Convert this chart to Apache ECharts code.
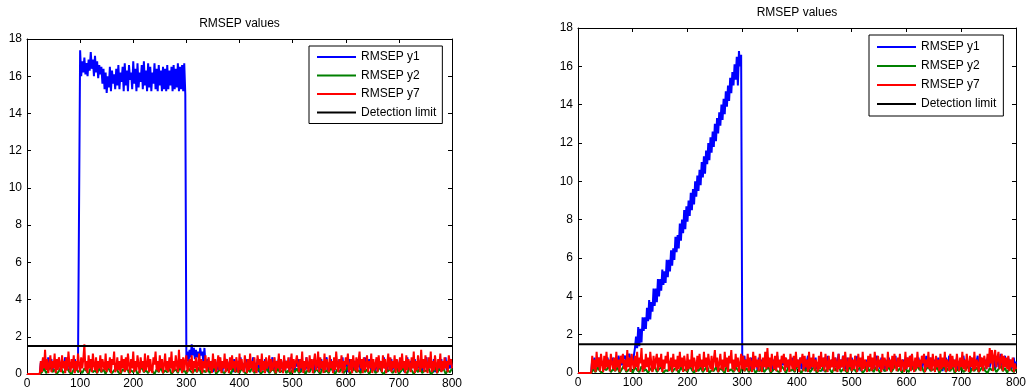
<!DOCTYPE html>
<html>
<head>
<meta charset="utf-8">
<title>RMSEP values</title>
<script src="https://cdn.jsdelivr.net/npm/echarts@6/dist/echarts.min.js"></script>
<style>
  html, body { margin: 0; padding: 0; background: #fff; }
  #chart { width: 1029px; height: 392px; }
</style>
</head>
<body>
<div id="chart"></div>
<script>
// Traces are stored as evenly spaced samples over 0..800
// (y1 and y7 every 2 samples, y2 every 4 samples).
const xTicks = [0, 100, 200, 300, 400, 500, 600, 700, 800];
const yTicks = [0, 2, 4, 6, 8, 10, 12, 14, 16, 18];
const seriesNames = ['RMSEP y1', 'RMSEP y2', 'RMSEP y7', 'Detection limit'];
const detectionLimit = 1.5;

// Left panel: step fault on y1 between samples 100 and 300
const leftY1 = [0,0,0,0,0,0,0,0,0,0,0,0,0,
  0.6,0.3,0.8,0.5,0.2,0.7,0.4,0.9,0.3,0.6,0.8,0.2,0.5,0.7,0.4,0.6,0.3,0.8,0.5,0.2,
  0.7,0.4,0.6,0.9,0.3,0.5,0.8,0.2,0.6,0.4,0.7,0.3,0.8,0.5,0.2,0.6,0.5,
  17.4,16.0,16.8,16.2,17.0,16.1,16.7,16.0,16.9,16.3,17.3,16.4,16.9,16.0,17.1,16.2,16.8,15.9,16.6,16.1,
  16.5,15.6,16.4,15.3,16.2,15.1,16.0,15.4,16.5,15.2,16.3,15.6,16.1,15.3,16.4,15.5,16.6,15.3,16.2,15.7,
  16.5,15.2,16.7,15.5,16.3,15.2,16.6,15.8,16.2,15.3,16.8,15.6,16.4,15.2,16.7,15.4,16.2,15.7,16.6,15.3,
  16.8,15.5,16.3,15.2,16.7,15.4,16.5,15.2,16.2,15.6,16.7,15.3,16.4,15.2,16.6,15.5,16.3,15.2,16.5,15.3,
  16.4,15.2,16.6,15.3,16.3,15.5,16.5,15.2,16.6,15.3,16.4,15.4,16.7,15.2,16.5,15.3,16.6,15.2,16.7,15.0,
  0.7,1.2,0.6,1.3,0.9,1.6,1.0,1.4,0.8,1.3,0.9,1.2,0.7,1.4,1.0,1.2,0.6,1.4,0.5,
  0.4,0.8,0.2,0.6,0.3,0.7,0.1,0.5,0.8,0.3,0.6,0.2,0.9,0.4,0.5,0.1,0.7,0.3,0.6,0.8,
  0.2,0.5,0.7,0.3,0.6,0.1,0.8,0.4,0.5,0.2,0.7,0.3,0.9,0.4,0.6,0.2,0.5,0.8,0.1,0.6,
  0.3,0.7,0.4,0.5,0.9,0.2,0.6,0.3,0.8,0.1,0.5,0.7,0.2,0.6,0.4,0.8,0.3,0.5,0.1,0.7,
  0.4,0.6,0.9,0.2,0.5,0.3,0.7,0.4,0.8,0.1,0.6,0.3,0.5,0.8,0.2,0.7,0.4,0.6,0.1,0.9,
  0.3,0.5,0.7,0.2,0.6,0.4,0.8,0.3,0.5,0.1,0.7,0.4,0.6,0.2,0.9,0.3,0.5,0.7,0.2,0.6,
  0.4,0.8,0.1,0.5,0.7,0.3,0.6,0.2,0.8,0.4,0.5,0.3,0.7,0.9,0.2,0.6,0.4,0.8,0.3,0.5,
  0.1,0.7,0.4,0.6,0.2,0.8,0.5,0.3,0.9,0.2,0.6,0.4,0.7,0.1,0.5,0.8,0.3,0.6,0.2,0.7,
  0.5,0.3,0.8,0.4,0.6,0.1,0.7,0.5,0.2,0.9,0.4,0.6,0.3,0.8,0.5,0.2,0.7,0.4,0.6,0.1,
  0.8,0.3,0.5,0.7,0.2,0.6,0.4,0.9,0.3,0.5,0.1,0.7,0.4,0.6,0.8,0.2,0.5,0.3,0.7,0.4,
  0.6,0.2,0.8,0.5,0.3,0.7,0.1,0.6,0.4,0.9,0.2,0.5,0.7,0.3,0.6,0.4,0.8,0.2,0.5,0.3,
  0.7,0.4,0.6,0.1,0.8,0.3,0.5,0.9,0.2,0.6,0.4,0.7,0.3,0.5,0.8,0.1,0.6,0.4,0.7,0.2,
  0.5,0.8,0.3,0.6,0.4,0.9,0.2,0.7,0.5,0.3,0.6,0.4];
const leftY2 = [0,0,0,0,0,0,0,
  0.1,0.3,0.05,0.2,0.4,0.1,0.25,0.0,0.15,0.35,
  0.05,0.2,0.3,0.1,0.0,0.25,0.4,0.1,0.2,0.05,
  0.3,0.15,0.0,0.35,0.1,0.2,0.05,0.3,0.1,0.25,
  0.0,0.4,0.15,0.05,0.2,0.3,0.1,0.0,0.25,0.15,
  0.35,0.05,0.2,0.1,0.3,0.0,0.15,0.4,0.1,0.2,
  0.05,0.3,0.15,0.0,0.25,0.1,0.35,0.05,0.2,0.1,
  0.3,0.0,0.15,0.25,0.05,0.4,0.1,0.2,0.0,0.3,
  0.15,0.05,0.25,0.1,0.35,0.0,0.2,0.1,0.3,0.05,
  0.2,0.4,0.0,0.15,0.25,0.1,0.05,0.3,0.15,0.0,
  0.35,0.1,0.2,0.05,0.3,0.15,0.0,0.25,0.1,0.4,
  0.05,0.2,0.3,0.0,0.15,0.1,0.35,0.05,0.2,0.25,
  0.0,0.3,0.1,0.15,0.4,0.05,0.2,0.0,0.25,0.1,
  0.3,0.05,0.15,0.35,0.0,0.2,0.1,0.45,0.05,0.25,
  0.15,0.0,0.3,0.1,0.2,0.05,0.35,0.15,0.0,0.25,
  0.1,0.3,0.05,0.2,0.4,0.0,0.15,0.3,0.1,0.2,
  0.05,0.35,0.1,0.25,0.0,0.2,0.3,0.05,0.15,0.4,
  0.1,0.0,0.25,0.15,0.3,0.05,0.2,0.35,0.0,0.15,
  0.3,0.1,0.05,0.4,0.2,0.0,0.25,0.1,0.35,0.05,
  0.2,0.15,0.3,0.0,0.1,0.4,0.05,0.25,0.15,0.3,
  0.0,0.2,0.1,0.3];
const leftY7 = [0,0,0,0,0,0,0,0,0,0,0,0,0,
  0.7,0.1,0.9,0.3,1.3,0.2,0.8,0.05,0.5,1.0,0.1,0.7,0.3,1.1,0.05,0.8,0.2,0.9,0.5,0.1,
  1.0,0.3,0.7,0.05,0.9,0.2,1.2,0.5,0.1,0.8,0.3,1.0,0.05,0.7,0.2,1.1,0.5,0.1,0.9,0.3,
  0.8,1.6,0.2,0.7,0.05,1.0,0.3,0.8,0.1,1.1,0.5,0.2,0.9,0.05,0.7,0.3,1.0,0.1,0.8,0.5,
  0.2,1.1,0.1,0.7,0.3,0.9,0.05,0.8,0.5,1.2,0.1,0.3,0.9,0.2,0.7,0.05,1.0,0.3,0.8,0.1,
  0.9,0.2,1.1,0.5,0.05,0.8,0.3,1.2,0.1,0.7,0.2,1.0,0.5,0.05,0.9,0.3,0.7,0.1,1.1,0.2,
  0.5,1.0,0.1,0.8,0.3,0.05,0.9,0.5,1.2,0.2,0.7,0.1,1.0,0.3,0.8,0.05,0.5,1.1,0.2,0.7,
  0.1,0.9,0.3,1.2,0.05,0.7,0.2,1.0,0.5,0.1,1.3,0.3,0.8,0.05,0.9,0.2,0.7,1.0,0.1,0.5,
  0.8,0.2,1.0,0.05,0.7,0.3,0.9,0.1,0.5,1.1,0.2,0.8,0.05,0.7,0.3,1.0,0.1,0.5,0.9,0.2,
  0.7,0.05,1.1,0.3,0.8,0.1,0.5,1.0,0.2,0.9,0.05,0.7,0.3,1.1,0.1,0.8,0.5,0.05,0.9,0.2,
  1.0,0.3,0.7,0.1,0.9,0.5,0.05,1.1,0.2,0.8,0.3,0.1,1.0,0.5,0.05,0.8,0.2,1.1,0.3,0.7,
  0.1,0.9,0.3,0.05,1.0,0.5,0.8,0.1,1.1,0.2,0.7,0.05,0.9,0.3,0.5,1.0,0.1,0.8,0.2,0.5,
  0.9,0.05,0.7,0.3,1.1,0.1,0.8,0.5,0.05,1.0,0.2,0.7,0.3,0.9,0.1,0.5,1.1,0.05,0.8,0.3,
  0.2,1.0,0.5,0.1,0.8,0.3,1.2,0.05,0.7,0.2,0.9,0.5,0.1,1.0,0.3,0.8,0.05,0.7,1.1,0.2,
  0.5,1.2,0.1,0.9,0.3,0.7,0.05,1.1,0.2,0.8,0.5,0.1,1.0,0.3,0.7,0.05,0.9,0.2,1.2,0.5,
  0.1,0.8,0.3,1.0,0.05,0.7,0.2,0.9,0.5,1.1,0.1,0.3,0.8,0.05,1.0,0.5,0.2,0.9,0.1,0.7,
  1.2,0.3,0.8,0.05,0.9,0.2,0.5,1.0,0.1,0.7,0.3,1.1,0.05,0.8,0.2,0.5,0.9,0.1,1.0,0.3,
  0.7,0.1,1.0,0.3,0.8,0.05,0.5,1.1,0.2,0.9,0.1,0.7,0.3,1.0,0.05,0.8,0.5,0.1,0.9,0.2,
  1.1,0.3,0.7,0.05,1.0,0.2,0.8,0.5,0.1,0.9,0.3,1.2,0.05,0.7,0.2,1.0,0.5,0.1,1.3,0.3,
  0.8,0.1,1.0,0.5,0.05,0.9,0.3,1.2,0.1,0.7,0.2,1.0,0.5,0.05,0.8,0.3,1.1,0.1,0.7,0.2,
  0.9,0.3,0.7,0.1,1.0,0.5,0.8,0.3];

// Right panel: drift fault on y1 between samples 100 and 300
const rightY1 = [0,0,0,0,0,0,0,0,0,0,0,0,0,
  0.7,0.4,0.8,0.5,0.3,0.6,0.8,0.4,0.7,0.5,0.6,0.3,0.7,0.6,0.8,0.4,0.6,0.7,0.5,0.8,
  0.6,0.4,0.7,0.5,0.9,0.6,0.8,0.4,0.7,0.6,0.9,0.5,0.8,0.7,1.0,0.6,0.8,0.5,0.9,1.3,
  1.9,1.3,2.4,1.4,2.3,1.6,2.9,2.2,2.9,2.3,3.4,2.7,3.8,2.8,3.7,3.2,4.4,3.5,4.4,3.7,
  4.9,4.0,4.9,4.3,5.4,4.6,5.3,4.7,5.9,5.0,5.9,5.3,6.4,5.6,6.5,5.9,7.1,6.3,7.2,6.5,
  7.8,6.9,8.0,7.3,8.5,7.5,8.7,7.9,9.0,8.2,9.4,8.5,9.6,8.8,10.0,9.2,10.3,9.5,10.6,9.8,
  11.0,10.2,11.3,10.4,11.6,10.9,12.0,11.1,12.3,11.5,12.6,11.8,13.0,12.1,13.3,12.5,13.6,12.9,14.0,13.2,
  14.3,13.5,14.7,13.9,15.0,14.2,15.4,14.6,15.7,15.0,16.1,15.3,16.5,15.0,16.8,16.0,16.6,
  0.9,
  0.5,0.9,0.3,0.7,0.4,0.6,0.2,0.8,0.5,0.3,0.7,0.4,0.6,0.1,0.8,0.5,0.3,0.7,0.2,0.6,
  0.4,0.8,0.2,0.5,0.7,0.3,0.6,0.1,0.7,0.4,0.6,0.9,0.3,0.5,0.2,0.7,0.4,0.6,0.8,0.3,
  0.5,0.2,0.7,0.4,0.6,0.8,0.1,0.5,0.3,0.7,0.4,0.6,0.8,0.2,0.5,0.3,0.7,0.1,0.6,0.9,
  0.3,0.5,0.2,0.7,0.4,0.6,0.8,0.2,0.5,0.3,0.7,0.4,0.6,0.1,0.8,0.5,0.3,0.9,0.2,0.6,
  0.4,0.7,0.5,0.2,0.8,0.3,0.6,1.0,0.4,0.7,0.3,0.9,0.5,0.6,0.2,0.8,0.4,0.7,0.3,0.8,
  0.5,0.2,0.6,0.4,0.9,0.3,0.7,0.1,0.5,0.8,0.4,0.6,0.2,0.7,0.5,0.3,0.8,0.4,0.6,0.2,
  0.7,0.5,0.9,0.3,0.6,0.2,0.8,0.4,0.5,0.1,0.7,0.3,0.6,0.8,0.2,0.5,0.4,0.7,0.3,0.9,
  0.2,0.6,0.4,0.8,0.1,0.5,0.7,0.3,0.6,0.2,0.8,0.4,0.5,0.9,0.3,0.6,0.1,0.7,0.4,0.5,
  0.8,0.2,0.6,0.3,0.7,0.5,0.1,0.9,0.4,0.6,0.2,0.8,0.3,0.5,0.7,0.4,0.6,0.2,0.8,0.3,
  0.5,0.7,0.1,0.6,0.4,0.8,0.3,0.5,0.9,0.2,0.6,0.4,0.7,0.3,0.5,0.8,0.2,0.6,0.4,0.7,
  0.3,0.9,0.5,0.2,0.7,0.4,0.6,0.1,0.8,0.5,0.3,0.7,0.4,0.6,0.9,0.2,0.5,0.8,0.3,0.6,
  0.4,0.7,0.2,0.8,0.5,0.3,0.6,0.9,0.4,0.7,0.2,0.5,0.8,0.3,0.6,1.0,0.4,0.7,0.5,0.9,
  0.3,0.6,0.8,0.4,0.7,0.2,0.5,0.8,0.3,0.6];
const rightY2 = [0,0,0,0,0,0,0,
  0.2,0.05,0.3,0.1,0.0,0.25,0.15,0.35,0.05,0.2,
  0.1,0.3,0.0,0.2,0.4,0.05,0.15,0.25,0.0,0.3,
  0.15,0.05,0.35,0.1,0.2,0.0,0.25,0.1,0.4,0.05,
  0.2,0.3,0.0,0.15,0.1,0.35,0.05,0.2,0.25,0.0,
  0.3,0.1,0.2,0.05,0.4,0.15,0.0,0.25,0.1,0.3,
  0.05,0.2,0.35,0.0,0.15,0.1,0.3,0.05,0.25,0.15,
  0.0,0.4,0.1,0.2,0.05,0.3,0.15,0.0,0.35,0.1,
  0.25,0.05,0.2,0.3,0.0,0.15,0.1,0.4,0.05,0.2,
  0.3,0.0,0.15,0.25,0.1,0.05,0.35,0.2,0.0,0.3,
  0.1,0.2,0.05,0.4,0.15,0.0,0.25,0.1,0.3,0.05,
  0.2,0.35,0.0,0.15,0.1,0.3,0.05,0.25,0.2,0.0,
  0.3,0.1,0.4,0.05,0.2,0.15,0.0,0.35,0.1,0.25,
  0.05,0.2,0.3,0.0,0.15,0.4,0.1,0.25,0.05,0.3,
  0.2,0.0,0.35,0.1,0.15,0.3,0.05,0.2,0.45,0.1,
  0.25,0.0,0.3,0.15,0.05,0.35,0.2,0.1,0.4,0.15,
  0.3,0.05,0.2,0.35,0.1,0.2,
  0.15,0.3,0.0,0.2,0.4,0.05,0.25,0.1,0.35,0.0,
  0.2,0.1,0.3,0.05,0.15,0.4,0.0,0.25,0.1,0.3,
  0.05,0.2,0.35,0.1,0.0,0.25,0.15,0.3,0.05,0.2,
  0.4,0.1,0.25,0.0,0.3,0.15,0.05,0.2];
const rightY7 = [0,0,0,0,0,0,0,0,0,0,0,0,0,
  0.9,0.2,0.7,0.05,1.1,0.3,0.8,0.1,1.0,0.5,0.05,0.9,0.2,1.1,0.3,0.7,0.1,1.0,0.5,0.2,
  0.8,0.1,1.1,0.3,0.7,0.05,0.9,0.5,1.0,0.2,0.7,0.1,1.2,0.3,0.8,0.05,1.0,0.5,0.2,0.9,
  0.3,1.1,0.1,0.8,0.5,1.3,0.05,0.7,0.2,1.0,0.3,0.8,0.1,1.1,0.5,0.05,0.9,0.2,0.7,1.0,
  0.1,0.8,0.3,1.0,0.05,0.7,0.2,0.9,0.5,1.1,0.1,0.5,0.8,0.05,1.0,0.3,0.7,0.1,0.9,0.2,
  1.1,0.3,0.8,0.05,0.9,0.5,0.1,1.0,0.2,0.7,0.3,1.2,0.1,0.8,0.5,0.05,0.9,0.2,1.0,0.3,
  0.7,0.1,1.1,0.3,0.8,0.05,1.0,0.5,0.2,0.9,0.1,0.7,1.2,0.3,0.8,0.05,0.5,1.0,0.2,0.7,
  0.1,1.1,0.3,0.8,0.05,0.9,0.5,1.2,0.2,0.7,0.1,1.0,0.3,0.8,0.05,0.5,1.0,0.2,0.9,0.1,
  0.7,0.3,1.0,0.1,0.8,0.5,0.05,1.1,0.2,0.9,0.3,0.7,0.1,1.0,0.5,0.05,0.8,0.3,1.1,0.2,
  1.3,0.3,0.8,0.05,1.0,0.5,0.2,0.9,0.1,1.1,0.3,0.7,0.05,0.9,0.5,1.0,0.1,0.8,0.3,0.7,
  0.05,1.0,0.5,0.2,0.9,0.1,1.1,0.3,0.7,0.05,0.8,0.5,1.0,0.1,0.9,0.3,0.7,0.05,1.1,0.2,
  0.8,0.3,1.0,0.1,0.7,0.5,0.05,0.9,0.2,1.1,0.3,0.8,0.1,1.0,0.5,0.05,0.9,0.2,0.7,0.3,
  1.1,0.1,0.8,0.5,0.05,1.0,0.2,0.7,0.3,0.9,0.1,1.1,0.5,0.05,0.8,0.3,1.0,0.1,0.7,0.2,
  0.9,0.5,0.05,1.0,0.3,0.8,0.1,1.1,0.2,0.7,0.5,0.05,0.9,0.3,1.0,0.1,0.8,0.2,1.1,0.5,
  0.1,0.9,0.3,0.7,0.05,1.0,0.2,0.8,0.5,0.1,1.1,0.3,0.7,0.05,0.9,0.2,1.0,0.5,0.1,0.8,
  0.3,1.0,0.1,0.7,0.5,0.05,1.1,0.2,0.8,0.3,0.9,0.1,1.0,0.5,0.05,0.8,0.2,1.1,0.3,0.7,
  0.1,0.9,0.5,1.0,0.05,0.7,0.3,1.1,0.2,0.8,0.1,1.0,0.5,0.05,0.9,0.3,0.7,0.1,1.0,0.2,
  0.8,0.3,1.1,0.05,0.7,0.5,0.1,1.0,0.2,0.9,0.3,0.7,0.05,1.0,0.5,0.1,0.8,0.3,1.1,0.2,
  0.7,0.1,1.0,0.5,0.05,0.9,0.3,0.8,0.1,1.1,0.2,0.7,0.5,0.05,1.0,0.3,0.8,0.1,0.9,0.5,
  0.2,1.0,0.3,1.3,0.5,1.2,0.1,0.9,1.2,0.3,0.8,1.1,0.2,0.7,1.0,0.1,0.9,0.3,0.8,0.2,
  0.9,0.1,0.7,0.3,0.8,0.05,0.5,0.2];

const colors = ['#0000ff', '#008000', '#ff0000', '#000000'];
const FONT = '"Liberation Sans", Arial, Helvetica, sans-serif';

const xMin = xTicks[0], xMax = xTicks[xTicks.length - 1], xStep = xTicks[1] - xTicks[0];
const yMin = yTicks[0], yMax = yTicks[yTicks.length - 1], yStep = yTicks[1] - yTicks[0];

// Spread an evenly sampled trace over the sample range
function toPoints(values) {
  const step = (xMax - xMin) / (values.length - 1);
  return values.map((v, i) => [xMin + i * step, v]);
}

const panels = [
  { grid: { left: 27, top: 39, width: 425, height: 335 }, title: { x: 239.5, y: 18 },
    legend: { left: 309, top: 46, gap: 4.5, textGap: 5, padding: [4, 6, 4, 8] },
    data: [leftY1, leftY2, leftY7] },
  { grid: { left: 578, top: 28, width: 438, height: 345 }, title: { x: 797, y: 7 },
    legend: { left: 869, top: 35, gap: 5, textGap: 5, padding: [5, 7, 5, 8] },
    data: [rightY1, rightY2, rightY7] }
];

const grids = [], xAxes = [], yAxes = [], series = [], titles = [], legends = [];

panels.forEach((p, k) => {
  grids.push(Object.assign({ containLabel: false }, p.grid));

  const axisLine = { show: true, onZero: false, lineStyle: { color: '#000', width: 1 } };
  const axisTick = { show: true, inside: true, length: 4, lineStyle: { color: '#000', width: 1 } };
  const label = { color: '#000', fontSize: 12, fontFamily: FONT };

  // bottom + top x axes (the top one only mirrors the ticks)
  xAxes.push({ gridIndex: k, type: 'value', position: 'bottom', min: xMin, max: xMax, interval: xStep,
    axisLine, axisTick, splitLine: { show: false },
    axisLabel: Object.assign({ margin: 4 }, label) });
  xAxes.push({ gridIndex: k, type: 'value', position: 'top', min: xMin, max: xMax, interval: xStep,
    axisLine, axisTick, splitLine: { show: false }, axisLabel: { show: false } });
  // left + right y axes
  yAxes.push({ gridIndex: k, type: 'value', position: 'left', min: yMin, max: yMax, interval: yStep,
    axisLine, axisTick, splitLine: { show: false },
    axisLabel: Object.assign({ margin: 5 }, label) });
  yAxes.push({ gridIndex: k, type: 'value', position: 'right', min: yMin, max: yMax, interval: yStep,
    axisLine, axisTick, splitLine: { show: false }, axisLabel: { show: false } });

  const xi = k * 2, yi = k * 2;
  p.data.forEach((vals, s) => {
    series.push({
      name: seriesNames[s], type: 'line', xAxisIndex: xi, yAxisIndex: yi,
      data: toPoints(vals), showSymbol: false, symbol: 'none',
      lineStyle: { color: colors[s], width: 2 }, itemStyle: { color: colors[s] },
      animation: false, silent: true
    });
  });
  series.push({
    name: seriesNames[3], type: 'line', xAxisIndex: xi, yAxisIndex: yi,
    data: [[xMin, detectionLimit], [xMax, detectionLimit]], showSymbol: false, symbol: 'none',
    lineStyle: { color: colors[3], width: 2 }, itemStyle: { color: colors[3] },
    animation: false, silent: true
  });

  titles.push({ text: 'RMSEP values', left: p.title.x, top: p.title.y, textAlign: 'center', padding: 0,
    textStyle: { color: '#000', fontSize: 12, fontWeight: 'normal', fontFamily: FONT } });

  legends.push({
    data: seriesNames, orient: 'vertical', left: p.legend.left, top: p.legend.top,
    backgroundColor: '#fff', borderColor: '#000', borderWidth: 1, borderRadius: 0,
    padding: p.legend.padding, itemGap: p.legend.gap, itemWidth: 39, itemHeight: 2,
    itemTextGap: p.legend.textGap, icon: 'rect', selectedMode: false,
    textStyle: { color: '#000', fontSize: 12, fontFamily: FONT, lineHeight: 14 }
  });
});

const chart = echarts.init(document.getElementById('chart'), null, { renderer: 'canvas' });
chart.setOption({
  backgroundColor: '#fff',
  animation: false,
  title: titles,
  legend: legends,
  grid: grids,
  xAxis: xAxes,
  yAxis: yAxes,
  series: series
});
</script>
</body>
</html>
